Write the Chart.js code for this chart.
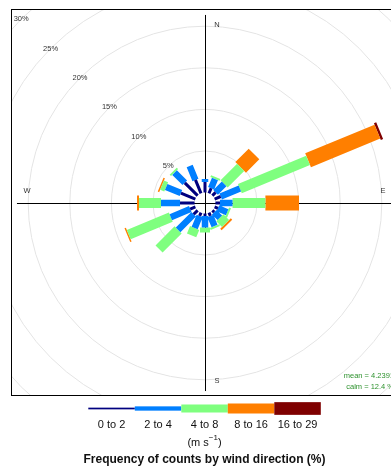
<!DOCTYPE html>
<html>
<head>
<meta charset="utf-8">
<script src="https://cdn.jsdelivr.net/npm/chart.js@4.4.1/dist/chart.umd.min.js"></script>
<style>
  html, body { margin: 0; padding: 0; background: #fff; overflow: hidden; }
  canvas { display: block; }
</style>
</head>
<body>
<canvas id="rose" width="391" height="470"></canvas>
<script>
// Wind directions (16 sectors) and their bearings in degrees
const directions = ['N','NNE','NE','ENE','E','ESE','SE','SSE','S','SSW','SW','WSW','W','WNW','NW','NNW'];
const bearings = [0, 22.5, 45, 67.5, 90, 112.5, 135, 157.5, 180, 202.5, 225, 247.5, 270, 292.5, 315, 337.5];

// Speed intervals (m s-1)
const speedBins = ['0 to 2', '2 to 4', '4 to 8', '8 to 16', '16 to 29'];

// Frequency of counts (%) per direction, one array per speed interval
const freq0to2   = [1.27, 0.67, 0.55, 0.79, 0.55, 0.43, 0.31, 0.43, 0.31, 0.43, 0.67, 0.67, 1.75, 1.88, 2.18, 1.75];
const freq2to4   = [0.36, 1.21, 1.45, 2.50, 1.51, 1.20, 0.96, 1.32, 1.38, 1.57, 2.65, 2.53, 2.29, 1.92, 1.74, 1.81];
const freq4to8   = [0.00, 0.24, 2.81, 8.87, 3.95, 0.25, 0.97, 0.25, 0.61, 0.96, 3.24, 5.47, 2.64, 0.54, 0.24, 0.00];
const freq8to16  = [0.00, 0.00, 2.27, 9.02, 4.04, 0.00, 0.24, 0.00, 0.00, 0.00, 0.00, 0.18, 0.24, 0.18, 0.00, 0.00];
const freq16to29 = [0.00, 0.00, 0.00, 0.29, 0.00, 0.00, 0.00, 0.00, 0.00, 0.00, 0.00, 0.00, 0.00, 0.00, 0.00, 0.00];

// Radial grid (%)
const ringTicks = [5, 10, 15, 20, 25, 30];
const ringLabels = ['5%', '10%', '15%', '20%', '25%', '30%'];

// Compass labels and summary statistics
const cardinalLabels = ['N', 'E', 'S', 'W'];
const cardinalBearings = [0, 90, 180, 270];
const meanSpeed = '4.2391';
const calmPercent = '12.4';

// Styling
const binColours = ['#00007F', '#007FFF', '#7FFF7F', '#FF7F00', '#7F0000'];
const paddleWidths = [3, 6.5, 10, 15, 18];
const keyHeights = [1.7, 4.3, 8, 10, 12.7];
const HOLE = 1.25;          // empty centre, in % units
const AXIS_REACH = 22.6;    // length of the compass cross, in % units
const LABEL_REACH = 21.4;   // radius of the compass letters, in % units

const binSeries = [freq0to2, freq2to4, freq4to8, freq8to16, freq16to29];

// Build each speed interval as a set of radial paddles (start/end point pairs)
function paddlePoints(k) {
  const pts = [];
  bearings.forEach((deg, i) => {
    let start = HOLE;
    for (let j = 0; j < k; j++) start += binSeries[j][i];
    const end = start + binSeries[k][i];
    if (binSeries[k][i] <= 0) return;
    const t = deg * Math.PI / 180;
    pts.push({ x: start * Math.sin(t), y: start * Math.cos(t) });
    pts.push({ x: end * Math.sin(t), y: end * Math.cos(t) });
    pts.push({ x: null, y: null });
  });
  return pts;
}

const datasets = speedBins.map((name, k) => ({
  label: name,
  data: paddlePoints(k),
  showLine: true,
  spanGaps: false,
  borderColor: binColours[k],
  borderWidth: paddleWidths[k],
  borderCapStyle: 'butt',
  pointRadius: 0,
  pointHoverRadius: 0,
  order: k
}));

const roseDecor = {
  id: 'roseDecor',
  beforeDatasetsDraw(chart) {
    const { ctx, chartArea: a, scales: { x, y } } = chart;
    const cx = x.getPixelForValue(0), cy = y.getPixelForValue(0);
    const ux = x.getPixelForValue(1) - cx;
    const uy = cy - y.getPixelForValue(1);
    ctx.save();
    ctx.beginPath();
    ctx.rect(a.left, a.top, a.right - a.left + 20, a.bottom - a.top);
    ctx.clip();

    // concentric frequency rings
    ctx.strokeStyle = '#e4e4e4';
    ctx.lineWidth = 1;
    ringTicks.forEach(p => {
      ctx.beginPath();
      ctx.ellipse(cx, cy, (HOLE + p) * ux, (HOLE + p) * uy, 0, 0, Math.PI * 2);
      ctx.stroke();
    });

    // compass cross
    ctx.strokeStyle = '#000';
    ctx.beginPath();
    ctx.moveTo(Math.round(cx) + 0.5, cy - AXIS_REACH * uy);
    ctx.lineTo(Math.round(cx) + 0.5, cy + AXIS_REACH * uy);
    ctx.moveTo(cx - AXIS_REACH * ux, Math.round(cy) + 0.5);
    ctx.lineTo(cx + AXIS_REACH * ux, Math.round(cy) + 0.5);
    ctx.stroke();

    // ring labels along the north-west diagonal
    ctx.fillStyle = '#333';
    ctx.font = '7.5px "Liberation Sans", Arial, sans-serif';
    ctx.textAlign = 'center';
    ctx.textBaseline = 'middle';
    ringTicks.forEach((p, i) => {
      const r = HOLE + p;
      ctx.fillText(ringLabels[i], cx - r * ux * Math.SQRT1_2, cy - r * uy * Math.SQRT1_2);
    });

    // compass letters
    cardinalLabels.forEach((lab, i) => {
      const t = cardinalBearings[i] * Math.PI / 180;
      let px = cx + LABEL_REACH * ux * Math.sin(t);
      let py = cy - LABEL_REACH * uy * Math.cos(t);
      if (i % 2 === 0) px += 12; else py -= 12;
      ctx.fillText(lab, px, py);
    });
    ctx.restore();
  },
  afterDraw(chart) {
    const { ctx, chartArea: a } = chart;
    ctx.save();
    // panel frame
    ctx.strokeStyle = '#000';
    ctx.lineWidth = 1;
    ctx.strokeRect(a.left + 0.5, a.top + 0.5, a.right - a.left + 20, a.bottom - a.top - 1);

    // summary statistics
    ctx.fillStyle = '#2e922e';
    ctx.font = '7.5px "Liberation Sans", Arial, sans-serif';
    ctx.textAlign = 'right';
    ctx.textBaseline = 'middle';
    ctx.fillText('mean = ' + meanSpeed, a.right + 3, a.bottom - 20);
    ctx.fillText('calm = ' + calmPercent + ' %', a.right + 3, a.bottom - 9.5);

    // speed key
    const keyLeft = 88.3, segW = 46.5, keyMid = 408.5;
    speedBins.forEach((name, k) => {
      ctx.fillStyle = binColours[k];
      ctx.fillRect(keyLeft + k * segW, keyMid - keyHeights[k] / 2, segW, keyHeights[k]);
    });
    ctx.fillStyle = '#111';
    ctx.font = '11px "Liberation Sans", Arial, sans-serif';
    ctx.textAlign = 'center';
    speedBins.forEach((name, k) => {
      ctx.fillText(name, keyLeft + (k + 0.5) * segW, 425);
    });
    // unit with superscript
    const base = '(m s', sup = '\u22121', close = ')';
    ctx.font = '11px "Liberation Sans", Arial, sans-serif';
    const wb = ctx.measureText(base).width, wc = ctx.measureText(close).width;
    ctx.font = '8px "Liberation Sans", Arial, sans-serif';
    const ws = ctx.measureText(sup).width;
    let ux0 = 204.5 - (wb + ws + wc) / 2;
    ctx.textAlign = 'left';
    ctx.font = '11px "Liberation Sans", Arial, sans-serif';
    ctx.fillText(base, ux0, 443);
    ctx.font = '8px "Liberation Sans", Arial, sans-serif';
    ctx.fillText(sup, ux0 + wb, 438);
    ctx.font = '11px "Liberation Sans", Arial, sans-serif';
    ctx.fillText(close, ux0 + wb + ws, 443);

    ctx.textAlign = 'center';
    ctx.font = 'bold 12px "Liberation Sans", Arial, sans-serif';
    ctx.fillText('Frequency of counts by wind direction (%)', 204.5, 460);
    ctx.restore();
  }
};

new Chart(document.getElementById('rose'), {
  type: 'scatter',
  data: { datasets },
  options: {
    responsive: false,
    devicePixelRatio: 1,
    animation: false,
    events: [],
    layout: { padding: { left: 11, top: 9, right: 0, bottom: 74 } },
    plugins: { legend: { display: false }, tooltip: { enabled: false } },
    scales: {
      x: { type: 'linear', display: false, min: -23.317, max: 22.356 },
      y: { type: 'linear', display: false, min: -23.197, max: 23.317 }
    }
  },
  plugins: [roseDecor]
});
</script>
</body>
</html>
